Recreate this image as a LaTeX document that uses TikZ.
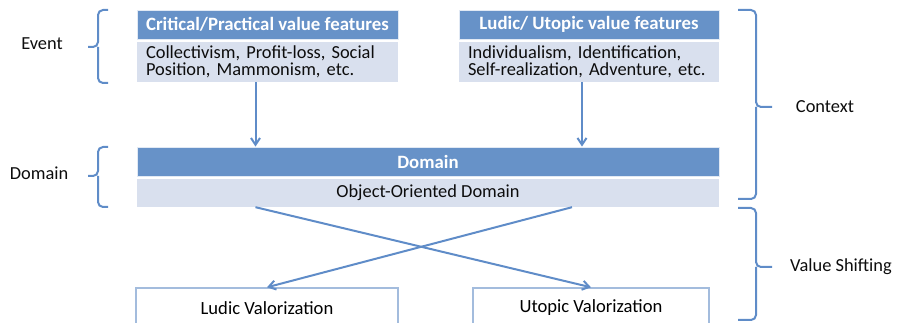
\documentclass[tikz,border=0pt]{standalone}
\usepackage{fontspec}
\setmainfont{Carlito}
\usetikzlibrary{arrows.meta,positioning,calc}
\definecolor{headblue}{HTML}{6792C8}
\definecolor{bodyblue}{HTML}{D9E0EE}
\definecolor{lineblue}{HTML}{5F8CC8}
\definecolor{edgeblue}{HTML}{A3BCDD}
\definecolor{ink}{HTML}{0D0D0D}
\tikzset{
  head/.style={fill=headblue,draw=white!80!headblue,line width=0.8pt,inner sep=0pt,
    minimum height=29pt,text=white,font=\fontsize{18.8}{17}\selectfont\bfseries},
  featbody/.style={fill=bodyblue,inner xsep=9pt,inner ysep=0pt,minimum height=40pt,
    align=left,text=ink,font=\fontsize{18.4}{17}\selectfont},
  dombody/.style={fill=bodyblue,inner sep=0pt,minimum height=28pt,
    text=ink,font=\fontsize{18.4}{17}\selectfont},
  valbox/.style={draw=edgeblue,line width=1.4pt,fill=white,inner sep=0pt,
    minimum height=40pt,text=black,font=\fontsize{18.6}{17}\selectfont},
  sidelabel/.style={text=ink,inner sep=0pt,font=\fontsize{18.4}{17}\selectfont},
  bracket/.style={draw=lineblue,line width=2pt,rounded corners=5pt},
  arrow/.style={-{Straight Barb[length=2.4mm,width=3.2mm]},line width=2pt,draw=lineblue}
}
\begin{document}
\begin{tikzpicture}[x=1pt,y=-1pt]
\useasboundingbox (0,0) rectangle (898,323);

% value features
\node[head,minimum width=261pt] (crith) at (267.5,24.5) {Critical/Practical value features};
\node[featbody,text width=243pt] (critb) at (267.5,62) {Collectivism, Profit-loss, Social\\Position, Mammonism, etc.};
\node[head,minimum width=260pt] (ludh) at (589,24.5) {Ludic/ Utopic value features};
\node[featbody,text width=242pt] (ludb) at (589,62) {Individualism, Identification,\\Self-realization, Adventure, etc.};

% domain
\node[head,minimum width=582pt] (domh) at (428,161.5) {Domain};
\node[dombody,minimum width=582pt] (domb) at (428,193) {Object-Oriented Domain};

% valorizations
\node[valbox,minimum width=262pt] (ludv) at (267,308) {Ludic Valorization};
\node[valbox,minimum width=236pt] (utov) at (591,308) {Utopic Valorization};

% side labels
\node[sidelabel] (event) at (42,44) {Event};
\node[sidelabel] (domain) at (39,173) {Domain};
\node[sidelabel] (context) at (825,107) {Context};
\node[sidelabel] (shift) at (841,267) {Value Shifting};

% braces
\draw[bracket] (108,10) -- (98,10) -- (98,47) -- (88,47) (108,83) -- (98,83) -- (98,47);
\draw[bracket] (108,147) -- (98,147) -- (98,176) -- (88,176) (108,207) -- (98,207) -- (98,176);
\draw[bracket] (738,10) -- (756,10) -- (756,107) -- (772,107) (738,199) -- (756,199) -- (756,107);
\draw[bracket] (738,208) -- (756,208) -- (756,267) -- (772,267) (738,320) -- (756,320) -- (756,267);

% connectors
\coordinate (critout) at ([xshift=-12pt]critb.south);
\coordinate (ludout) at ([xshift=-7pt]ludb.south);
\draw[arrow] (critout) -- (critout |- domh.north);
\draw[arrow] (ludout) -- (ludout |- domh.north);
\draw[arrow] (critout |- domb.south) -- (utov.north);
\draw[arrow] ([xshift=-10pt]ludout |- domb.south) -- (ludv.north);
\end{tikzpicture}
\end{document}
